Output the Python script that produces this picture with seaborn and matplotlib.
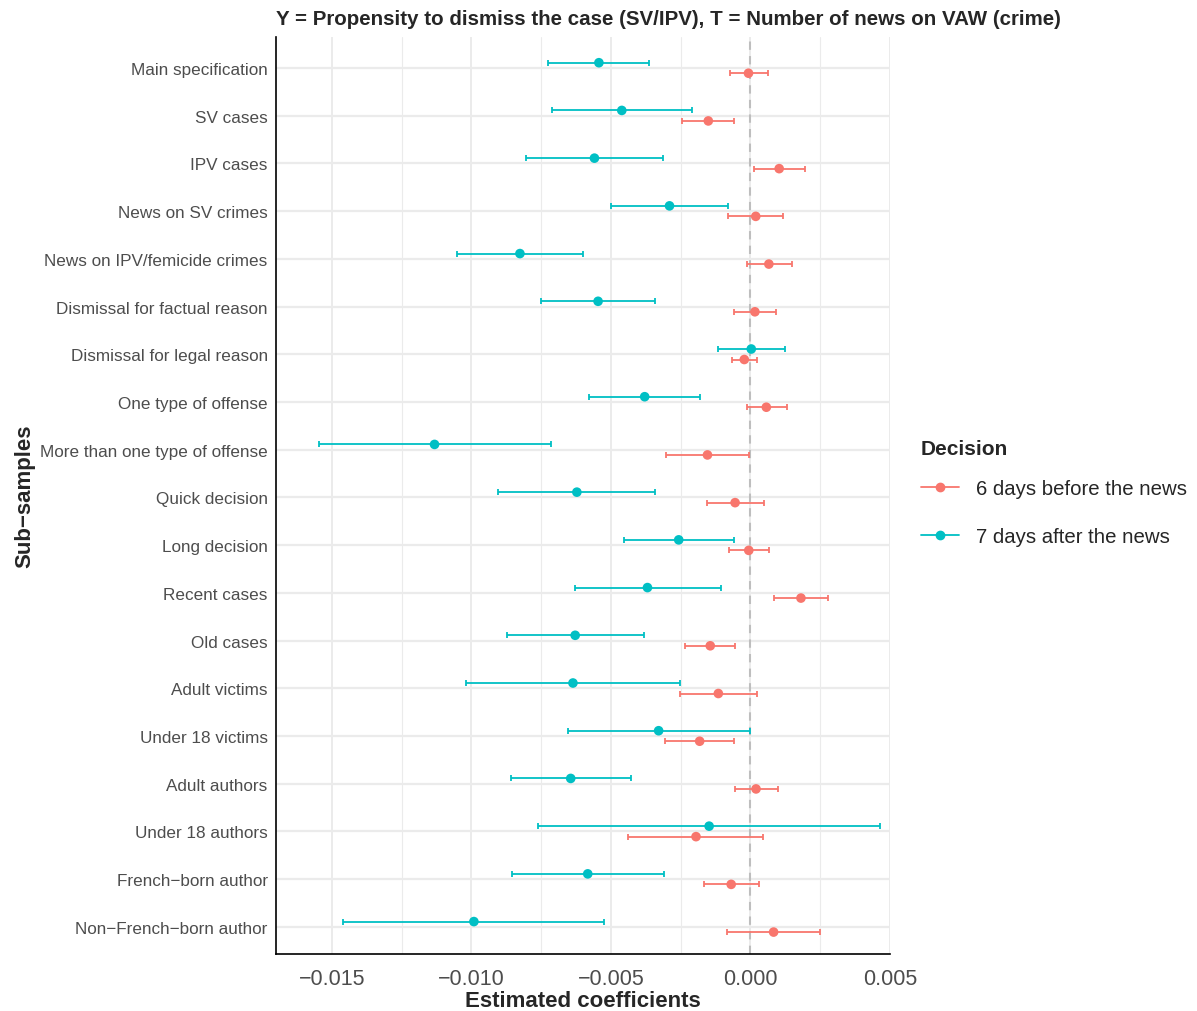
import numpy as np
import pandas as pd
import matplotlib
matplotlib.use("Agg")
import matplotlib.pyplot as plt
from matplotlib.lines import Line2D
import seaborn as sns

samples = ["Main specification", "SV cases", "IPV cases", "News on SV crimes",
           "News on IPV/femicide crimes", "Dismissal for factual reason",
           "Dismissal for legal reason", "One type of offense",
           "More than one type of offense", "Quick decision", "Long decision",
           "Recent cases", "Old cases", "Adult victims", "Under 18 victims",
           "Adult authors", "Under 18 authors", "French\u2212born author",
           "Non\u2212French\u2212born author"]

# 6 days before the news (red)
before_est = [-0.07, -1.51, 1.03, 0.19, 0.66, 0.16, -0.22, 0.57, -1.54, -0.55,
              -0.06, 1.81, -1.44, -1.15, -1.82, 0.20, -1.95, -0.69, 0.83]
before_lo = [-0.73, -2.44, 0.14, -0.79, -0.14, -0.59, -0.65, -0.14, -3.03, -1.57,
             -0.76, 0.83, -2.33, -2.51, -3.05, -0.57, -4.37, -1.67, -0.83]
before_hi = [0.62, -0.59, 1.94, 1.16, 1.48, 0.92, 0.22, 1.31, -0.04, 0.49,
             0.68, 2.79, -0.56, 0.22, -0.59, 0.99, 0.46, 0.30, 2.50]

# 7 days after the news (teal)
after_est = [-5.43, -4.61, -5.59, -2.90, -8.26, -5.46, 0.03, -3.79, -11.32, -6.22,
             -2.57, -3.69, -6.28, -6.36, -3.29, -6.44, -1.48, -5.83, -9.91]
after_lo = [-7.24, -7.10, -8.05, -4.99, -10.52, -7.51, -1.18, -5.79, -15.47, -9.04,
            -4.54, -6.29, -8.74, -10.20, -6.55, -8.59, -7.60, -8.55, -14.60]
after_hi = [-3.62, -2.10, -3.13, -0.80, -6.01, -3.41, 1.25, -1.80, -7.14, -3.42,
            -0.60, -1.05, -3.82, -2.53, -0.01, -4.27, 4.64, -3.09, -5.23]

groups = ["6 days before the news", "7 days after the news"]
colors = {"6 days before the news": "#F8766D", "7 days after the news": "#00BFC4"}

rows = []
for g, est, lo, hi, off in [(groups[0], before_est, before_lo, before_hi, 0.11),
                            (groups[1], after_est, after_lo, after_hi, -0.11)]:
    for i, s in enumerate(samples):
        rows.append({"sample": s, "Decision": g, "pos": i + off,
                     "est": est[i] / 1000, "lo": lo[i] / 1000, "hi": hi[i] / 1000})
df = pd.DataFrame(rows)

sns.set_style("white")
plt.rcParams["font.family"] = ["Liberation Sans", "DejaVu Sans"]

fig, ax = plt.subplots(figsize=(11.97, 10.12), dpi=100)
fig.subplots_adjust(left=0.2306, right=0.7435, top=0.9625, bottom=0.0563)

# grid
for i in range(len(samples)):
    ax.axhline(i, color="#EBEBEB", lw=1.6, zorder=0)
for x in np.arange(-0.015, 0.0051, 0.005):
    ax.axvline(x, color="#EBEBEB", lw=1.4, zorder=0)
for x in np.arange(-0.0175, 0.0051, 0.005):
    ax.axvline(x, color="#EBEBEB", lw=0.8, zorder=0)
ax.axvline(0, color="#BEBEBE", lw=1.5, ls=(0, (4, 3)), zorder=1)

for g in groups:
    d = df[df["Decision"] == g]
    ax.errorbar(d["est"], d["pos"], xerr=[d["est"] - d["lo"], d["hi"] - d["est"]],
                fmt="none", ecolor=colors[g], elinewidth=1.3, capsize=2.5,
                capthick=1.3, zorder=2)
sns.scatterplot(data=df, x="est", y="pos", hue="Decision", palette=colors,
                s=48, edgecolor="none", legend=False, ax=ax, zorder=3)

ax.set_xlim(-0.0170, 0.0050)
ax.set_ylim(len(samples) - 0.43, -0.65)
ax.set_yticks(range(len(samples)))
ax.set_yticklabels(samples, fontsize=12.3, color="#4D4D4D")
ax.set_xticks([-0.015, -0.010, -0.005, 0.000, 0.005])
ax.set_xticklabels(["\u22120.015", "\u22120.010", "\u22120.005", "0.000", "0.005"],
                   fontsize=15.5, color="#4D4D4D")
ax.tick_params(axis="y", length=0, pad=6)
ax.tick_params(axis="x", length=0, pad=10)
for side in ["top", "right"]:
    ax.spines[side].set_visible(False)
for side in ["left", "bottom"]:
    ax.spines[side].set_color("black")
    ax.spines[side].set_linewidth(1.2)

ax.set_xlabel("Estimated coefficients", fontsize=16, fontweight="bold", labelpad=1)
ax.set_ylabel("Sub\u2212samples", fontsize=16, fontweight="bold", labelpad=3)
ax.set_title("Y = Propensity to dismiss the case (SV/IPV), T = Number of news on VAW (crime)",
             loc="left", fontsize=14.8, fontweight="bold", pad=9)

handles = [Line2D([0], [0], color=colors[g], marker="o", markersize=6, lw=1.3)
           for g in groups]
leg = ax.legend(handles, groups, title="Decision", loc="center left",
                bbox_to_anchor=(1.02, 0.503), frameon=False, fontsize=14.7,
                title_fontproperties={"weight": "bold", "size": 15},
                handlelength=1.9, labelspacing=1.45, alignment="left",
                borderaxespad=0.5)
# tighten the gap between the legend title and first entry
leg._legend_box.sep = 15

fig.savefig("out.png", dpi=100)
